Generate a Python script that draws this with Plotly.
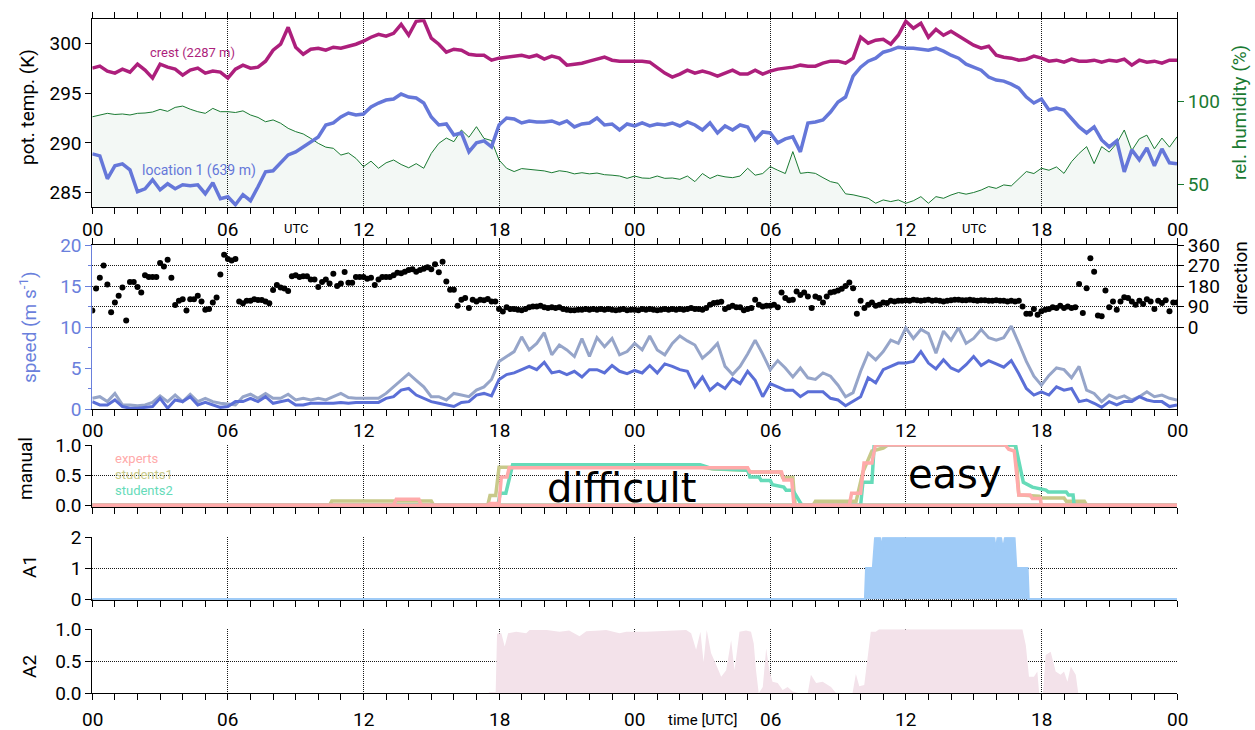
import numpy as np
import plotly.graph_objects as go

W, H = 1255, 730

# ---------------- data ----------------
tick_hours = [0, 6, 12, 18, 24, 30, 36, 42, 48]
tick_labels = ["00", "06", "12", "18", "00", "06", "12", "18", "00"]

# potential temperature (K), 20-min steps, 0..48 h
crest_T = [
    297.5, 297.7, 297.2, 297.0, 297.4, 297.1, 297.9, 297.3, 296.5, 297.9, 297.6, 297.4,
    296.8, 297.3, 297.5, 297.0, 297.2, 297.1, 296.5, 297.4, 297.8, 297.5, 297.6, 298.2,
    299.3, 299.9, 301.6, 299.6, 298.9, 299.4, 299.5, 299.3, 299.6, 299.5, 299.7, 299.9,
    300.2, 300.6, 300.9, 300.7, 301.0, 301.9, 300.8, 302.2, 302.3, 300.5, 299.9, 299.1,
    299.4, 299.3, 298.9, 298.8, 298.8, 298.3, 298.5, 298.6, 298.7, 298.8, 298.6, 298.8,
    298.4, 298.7, 298.5, 297.8, 297.9, 298.0, 298.2, 298.4, 298.6, 298.3, 298.2, 298.2,
    298.2, 298.2, 298.1, 297.5, 297.0, 296.6, 296.9, 297.3, 297.0, 297.2, 297.0, 296.7,
    297.0, 297.3, 296.9, 296.9, 297.3, 296.9, 297.2, 297.4, 297.5, 297.6, 297.8, 297.7,
    297.7, 298.0, 298.2, 298.2, 298.0, 298.5, 300.6, 300.0, 300.3, 300.4, 299.9, 300.8,
    302.2, 301.5, 302.0, 300.6, 301.4, 300.8, 301.2, 300.7, 300.2, 299.8, 299.5, 299.7,
    298.8, 298.6, 298.5, 298.3, 298.4, 298.7, 298.5, 298.2, 298.3, 298.1, 298.4, 298.2,
    298.2, 298.3, 298.1, 298.3, 298.2, 298.4, 297.8, 298.3, 298.1, 298.2, 298.0, 298.3,
    298.3,
]
loc1_T = [
    288.9, 288.7, 286.4, 287.7, 287.9, 287.3, 285.1, 285.4, 286.3, 285.3, 285.9, 285.4,
    285.8, 285.7, 285.8, 284.9, 286.0, 284.4, 284.6, 283.8, 284.8, 284.2, 285.6, 287.1,
    287.2, 288.0, 288.8, 289.1, 289.6, 290.1, 290.6, 291.8, 292.0, 292.6, 293.0, 292.8,
    292.9, 293.6, 294.0, 294.3, 294.4, 294.9, 294.6, 294.5, 294.0, 292.6, 291.8, 291.9,
    290.8, 291.0, 289.1, 290.0, 290.2, 289.6, 291.8, 292.5, 292.4, 292.0, 292.2, 292.1,
    292.1, 292.2, 291.9, 292.2, 291.6, 291.9, 292.0, 292.5, 291.8, 291.9, 291.3, 291.9,
    291.7, 292.0, 291.7, 291.9, 291.8, 292.0, 291.7, 292.1, 291.8, 291.3, 292.0, 291.0,
    291.7, 291.3, 291.8, 291.6, 290.3, 291.1, 291.0, 290.0, 290.4, 290.6, 289.1, 292.0,
    292.1, 292.3, 293.1, 294.1, 294.6, 296.7, 297.6, 298.2, 298.5, 299.1, 299.3, 299.6,
    299.5, 299.5, 299.4, 299.3, 299.5, 299.2, 298.8, 298.5, 297.9, 297.6, 297.3, 296.6,
    296.3, 296.2, 295.9, 295.5, 294.6, 294.0, 294.4, 293.3, 293.5, 293.3, 292.5, 291.6,
    291.0, 291.6, 290.3, 289.6, 290.2, 287.1, 289.3, 288.3, 289.5, 287.7, 289.4, 288.0,
    287.9,
]
# relative humidity (%), 20-min steps
rel_hum = [
    90.9, 92.0, 93.0, 92.3, 92.6, 92.0, 93.0, 93.2, 93.8, 95.4, 94.2, 96.6,
    97.4, 95.5, 94.0, 93.0, 96.0, 94.0, 94.0, 93.5, 94.5, 92.0, 90.5, 87.9,
    89.0, 87.0, 83.9, 81.9, 80.5, 77.8, 74.8, 72.5, 71.8, 67.7, 69.0, 65.7,
    60.7, 64.0, 59.7, 63.0, 64.7, 62.0, 60.0, 62.5, 59.7, 68.7, 74.8, 78.0,
    75.8, 82.9, 78.5, 84.9, 77.8, 76.5, 64.7, 59.7, 57.7, 59.5, 59.0, 58.6,
    58.1, 57.0, 58.2, 57.6, 56.3, 57.0, 56.3, 56.8, 55.8, 55.5, 55.0, 53.6,
    55.0, 53.8, 53.6, 55.0, 53.6, 53.8, 53.0, 55.0, 51.6, 56.5, 53.5, 55.5,
    54.5, 54.0, 55.0, 59.7, 55.5, 56.5, 60.7, 58.5, 56.5, 69.8, 56.6, 57.2,
    56.6, 54.0, 51.6, 50.6, 44.2, 43.6, 42.5, 41.5, 38.5, 40.5, 39.5, 40.5,
    38.5, 40.0, 42.5, 38.5, 42.5, 41.5, 43.5, 45.0, 44.0, 45.0, 46.5, 48.6,
    47.5, 49.6, 49.0, 53.6, 57.7, 56.5, 59.7, 58.5, 60.5, 56.6, 63.7, 68.7,
    72.8, 62.5, 72.8, 69.5, 74.8, 82.9, 70.5, 77.5, 79.8, 71.5, 78.0, 72.5,
    78.8,
]
# wind speed (m/s), 20-min steps
speed_light = [
    1.3, 1.5, 0.9, 1.9, 0.5, 0.5, 0.4, 0.5, 0.8, 1.6, 0.9, 1.7,
    0.9, 1.8, 0.9, 1.3, 0.9, 0.7, 0.6, 0.5, 1.5, 1.8, 1.3, 1.9,
    1.3, 1.3, 1.8, 1.1, 1.3, 1.1, 1.3, 1.1, 1.5, 1.9, 1.4, 1.3,
    1.3, 1.3, 1.3, 1.9, 2.7, 3.6, 4.3, 3.5, 2.7, 1.5, 1.5, 1.1,
    1.9, 1.7, 1.5, 2.3, 2.7, 3.6, 5.8, 6.4, 7.0, 8.8, 7.2, 8.0,
    9.3, 6.6, 7.8, 7.2, 6.4, 8.6, 6.4, 8.7, 7.6, 8.6, 6.6, 7.0,
    8.0, 7.2, 8.9, 7.2, 6.6, 8.0, 8.9, 8.3, 7.8, 6.2, 7.0, 8.0,
    5.2, 4.2, 5.2, 6.7, 8.4, 6.7, 4.8, 5.9, 5.0, 3.9, 5.0, 3.8,
    3.6, 4.4, 4.0, 2.9, 1.5, 2.0, 4.6, 6.8, 6.0, 7.0, 8.4, 8.0,
    9.9, 8.6, 9.7, 9.2, 6.8, 9.5, 8.4, 9.9, 8.0, 8.6, 9.7, 8.7,
    8.4, 8.7, 10.1, 8.0, 5.8, 4.0, 2.9, 4.1, 5.0, 4.8, 3.8, 5.2,
    2.3, 1.9, 0.9, 1.7, 1.3, 1.6, 1.1, 1.5, 2.1, 1.5, 1.7, 1.3,
    1.1,
]
speed_dark = [
    0.9, 0.5, 0.5, 1.1, 0.3, 0.1, 0.1, 0.2, 0.3, 1.3, 0.1, 1.1,
    0.9, 1.5, 0.5, 0.8, 0.5, 0.2, 0.3, 0.9, 0.9, 1.3, 0.9, 1.5,
    0.7, 0.9, 1.1, 0.5, 0.5, 0.7, 0.7, 0.7, 0.7, 0.8, 0.7, 0.8,
    0.8, 0.8, 0.8, 1.3, 1.5, 2.3, 2.5, 1.7, 1.3, 0.9, 0.7, 0.5,
    0.3, 0.8, 0.9, 1.7, 1.9, 1.6, 3.6, 4.2, 4.4, 4.8, 5.2, 4.8,
    5.7, 4.4, 4.6, 4.2, 4.6, 3.9, 4.8, 4.8, 4.4, 5.3, 4.6, 4.3,
    4.7, 4.4, 5.3, 4.4, 5.5, 5.2, 4.8, 4.6, 2.7, 3.9, 2.3, 3.1,
    2.5, 3.7, 3.1, 4.6, 3.5, 1.5, 3.1, 2.7, 2.3, 2.3, 1.5, 2.1,
    2.1, 2.1, 1.3, 1.1, 0.4, 0.9, 1.5, 3.8, 3.2, 4.8, 5.2, 5.6,
    5.6, 5.8, 7.0, 5.6, 4.9, 6.0, 5.0, 4.6, 5.4, 6.4, 5.3, 5.9,
    5.5, 5.1, 5.9, 4.3, 2.5, 1.7, 2.1, 1.7, 2.7, 2.3, 2.5, 0.9,
    1.1, 0.7, 0.2, 0.9, 0.5, 0.9, 0.9, 1.5, 1.1, 0.9, 0.9, 0.3,
    0.5,
]
# wind direction (deg), 10-min steps
direction = [
    72, 169, 216, 270, 187, 65, 108, 137, 173, 29, 198, 198,
    176, 151, 227, 220, 220, 220, 281, 266, 295, 216, 97, 115,
    122, 72, 122, 122, 137, 112, 76, 79, 108, 130, 230, 317,
    299, 292, 299, 112, 104, 115, 115, 122, 119, 119, 112, 104,
    162, 184, 173, 169, 158, 223, 227, 220, 223, 223, 209, 209,
    176, 198, 209, 191, 234, 180, 191, 241, 194, 194, 220, 220,
    220, 212, 216, 184, 209, 220, 220, 220, 227, 238, 236, 243,
    250, 254, 243, 250, 256, 262, 254, 275, 240, 286, 200, 163,
    163, 93, 120, 127, 83, 120, 112, 120, 117, 123, 112, 112,
    79, 68, 87, 79, 79, 76, 73, 79, 87, 90, 90, 93,
    87, 83, 87, 83, 87, 79, 76, 73, 73, 76, 76, 79,
    76, 79, 76, 79, 76, 79, 76, 73, 76, 79, 73, 76,
    76, 73, 79, 76, 79, 76, 73, 76, 79, 76, 79, 76,
    79, 76, 79, 83, 79, 79, 76, 83, 98, 105, 108, 111,
    79, 87, 93, 87, 87, 73, 79, 83, 120, 98, 90, 93,
    93, 98, 87, 152, 127, 117, 120, 156, 141, 152, 134, 83,
    134, 127, 108, 134, 152, 155, 160, 168, 180, 195, 170, 58,
    115, 83, 98, 108, 93, 98, 108, 105, 115, 112, 115, 115,
    117, 115, 120, 117, 115, 117, 120, 115, 117, 115, 112, 115,
    117, 120, 120, 117, 117, 120, 117, 115, 117, 117, 115, 115,
    117, 115, 115, 112, 115, 112, 115, 90, 58, 58, 79, 54,
    69, 76, 79, 87, 83, 93, 83, 90, 83, 87, 189, 61,
    170, 302, 243, 51, 47, 160, 87, 112, 76, 112, 131, 127,
    112, 98, 115, 101, 122, 112, 79, 115, 105, 117, 69, 108,
    108,
]

# manual classification (fraction), breakpoints (hour, value)
experts_diff_t = [0, 13.33, 13.45, 14.45, 14.55, 17.5, 17.6, 18.0, 18.1, 18.35, 18.45, 29.0, 29.1, 30.5, 30.6, 30.95, 31.05, 48]
experts_diff_v = [0, 0, 0.1, 0.1, 0, 0, 0.03, 0.03, 0.47, 0.47, 0.62, 0.62, 0.55, 0.55, 0.42, 0.42, 0, 0]
students1_diff_t = [0, 10.5, 10.6, 15.0, 15.1, 17.5, 17.6, 17.85, 18.0, 27.0, 27.5, 29.0, 29.15, 30.45, 30.55, 31.0, 31.1, 48]
students1_diff_v = [0, 0, 0.07, 0.07, 0, 0, 0.16, 0.16, 0.63, 0.63, 0.6, 0.58, 0.55, 0.55, 0.46, 0.46, 0, 0]
students2_diff_t = [0, 17.95, 18.05, 18.3, 18.6, 26.9, 27.4, 29.0, 29.1, 29.5, 29.6, 30.0, 30.1, 30.6, 30.7, 31.0, 31.4, 48]
students2_diff_v = [0, 0, 0.2, 0.2, 0.67, 0.67, 0.61, 0.58, 0.47, 0.47, 0.41, 0.41, 0.34, 0.3, 0.25, 0.25, 0, 0]
experts_easy_t = [0, 33.5, 33.6, 34.0, 34.15, 34.5, 34.65, 40.4, 40.55, 40.8, 41.0, 41.5, 41.6, 41.95, 42.0, 48]
experts_easy_v = [0, 0, 0.2, 0.2, 0.7, 0.7, 1.0, 1.0, 0.93, 0.9, 0.17, 0.17, 0.11, 0.11, 0, 0]
students1_easy_t = [0, 31.9, 32.0, 33.8, 34.1, 34.5, 35.0, 35.2, 40.85, 41.0, 41.9, 42.0, 43.0, 43.1, 43.9, 44.0, 48]
students1_easy_v = [0, 0, 0.065, 0.065, 0.55, 0.9, 0.95, 1.0, 1.0, 0.17, 0.15, 0.12, 0.12, 0.065, 0.065, 0, 0]
students2_easy_t = [0, 34.0, 34.1, 34.5, 34.6, 40.85, 41.2, 41.5, 41.6, 42.2, 42.3, 43.1, 43.2, 43.4, 43.45, 48]
students2_easy_v = [0, 0, 0.38, 0.38, 1.0, 1.0, 0.38, 0.33, 0.3, 0.25, 0.22, 0.22, 0.17, 0.17, 0, 0]

# algorithm 1 (class), breakpoints
a1_t = [0, 34.2, 34.25, 34.55, 34.65, 34.85, 34.93, 35.0, 39.9, 39.98, 40.07, 40.2, 40.3, 40.4, 40.8, 40.88, 41.38, 41.43, 48]
a1_v = [0, 0, 1, 1, 2, 2, 1.5, 2, 2, 1.5, 2, 2, 1.55, 2, 2, 1, 1, 0, 0]

# algorithm 2 (probability), breakpoints
a2_t = [0, 17.5, 17.6, 17.85, 17.91, 18.1, 18.25, 18.4, 18.76, 19.2, 19.35, 20.1, 20.68, 21.1, 21.56, 21.86,
        22.45, 22.74, 23.33, 23.63, 24.5, 25.1, 25.69, 26.28, 26.5, 26.72, 26.91, 27.05, 27.19, 27.38, 27.58,
        27.83, 28.05, 28.27, 28.42, 28.64, 28.93, 29.15, 29.27, 29.37, 29.49, 29.67, 29.82, 29.96, 30.1, 30.33,
        30.55, 30.77, 30.99, 31.29, 31.66, 31.8, 32.03, 32.32, 32.69, 32.9, 33.64, 33.79, 33.94, 34.16, 34.45,
        34.67, 34.82, 41.16, 41.31, 41.45, 41.67, 41.82, 41.9, 42.07, 42.19, 42.41, 42.63, 42.85, 43.0, 43.15,
        43.3, 43.52, 43.63, 48]
a2_v = [0, 0, 0.02, 0.02, 0.93, 0.94, 0.73, 0.94, 0.96, 0.94, 0.99, 0.99, 0.96, 0.98, 0.89, 0.97,
        0.98, 0.99, 0.94, 0.96, 0.96, 0.97, 0.99, 0.99, 0.94, 0.68, 0.96, 0.49, 0.99, 0.63, 0.47,
        0.26, 0.36, 0.83, 0.36, 0.96, 0.98, 0.96, 0.78, 0.36, 0.0, 0.1, 0.7, 0.36, 0.18, 0.16,
        0.05, 0.1, 0.03, 0.0, 0.0, 0.29, 0.16, 0.18, 0.1, 0.01, 0.0, 0.3, 0.11, 0.13, 0.96,
        0.96, 1.0, 1.0, 0.75, 0.26, 0.26, 0.34, 0.0, 0.0, 0.6, 0.65, 0.34, 0.29, 0.34, 0.18,
        0.42, 0.29, 0.0, 0.0]

assert len(crest_T) == len(loc1_T) == len(rel_hum) == len(speed_light) == len(speed_dark) == 145
assert len(direction) == 289
hours_20 = np.linspace(0, 48, len(crest_T))
hours_10 = np.linspace(0, 48, len(direction))

# ---------------- styling ----------------
C_CREST = "#ad1f7c"
C_LOC1 = "#6577d9"
C_RH = "#1a7a32"
C_SPD_DARK = "#5b6fd7"
C_SPD_LIGHT = "#96a5c9"
C_SPD_AX = "#6a80dc"
C_EXP = "#ffaaaa"
C_ST1 = "#c8c98a"
C_ST2 = "#66dbb9"
C_A1 = "#9fcbf7"
C_A2 = "#f3e2ea"
GRID = "rgba(0,0,0,0.9)"
GDASH = "1px,1px"
FONT = "Roboto"
FS = 19

XD = [92.3 / W, 1177.0 / W]


def yd(top, bottom):
    return [1 - bottom / H, 1 - top / H]


def xax(anchor, mirror):
    return dict(domain=XD, anchor=anchor, range=[0, 48], dtick=6, tick0=0,
                showticklabels=False, ticks="outside", ticklen=6, tickwidth=1,
                tickcolor="black", showline=True, linecolor="black", linewidth=1,
                mirror="ticks" if mirror else False, showgrid=True, gridcolor=GRID,
                griddash=GDASH, gridwidth=1, zeroline=False, automargin=False,
                minor=dict(dtick=1, tick0=0, ticks="outside", ticklen=6,
                           tickcolor="black", showgrid=False))


def yax(anchor, dom, rng, dtick, fmt=None):
    d = dict(domain=dom, anchor=anchor, range=rng, dtick=dtick, tick0=0,
             ticks="outside", ticklen=6, tickcolor="black", showline=True,
             linecolor="black", linewidth=1, showgrid=True, gridcolor=GRID,
             griddash=GDASH, gridwidth=1, zeroline=False, automargin=False,
             tickfont=dict(size=FS, family=FONT, color="black"))
    if fmt:
        d["tickformat"] = fmt
    return d


fig = go.Figure()

# panel 1
fig.add_trace(go.Scatter(x=hours_20, y=rel_hum, xaxis="x", yaxis="y", mode="lines",
                         line=dict(color=C_RH, width=1), fill="tozeroy",
                         fillcolor="rgba(26,122,50,0.05)"))
fig.add_trace(go.Scatter(x=hours_20, y=crest_T, xaxis="x", yaxis="y2", mode="lines",
                         line=dict(color=C_CREST, width=3.5)))
fig.add_trace(go.Scatter(x=hours_20, y=loc1_T, xaxis="x", yaxis="y2", mode="lines",
                         line=dict(color=C_LOC1, width=3.5)))
# panel 2
fig.add_trace(go.Scatter(x=hours_10, y=direction, xaxis="x2", yaxis="y3", mode="markers",
                         marker=dict(color="black", size=6)))
fig.add_trace(go.Scatter(x=hours_20, y=speed_light, xaxis="x2", yaxis="y4", mode="lines",
                         line=dict(color=C_SPD_LIGHT, width=3)))
fig.add_trace(go.Scatter(x=hours_20, y=speed_dark, xaxis="x2", yaxis="y4", mode="lines",
                         line=dict(color=C_SPD_DARK, width=3)))
# panel 3 (manual)
for t, v, c in [(students1_diff_t, students1_diff_v, C_ST1),
                (students1_easy_t, students1_easy_v, C_ST1),
                (students2_diff_t, students2_diff_v, C_ST2),
                (students2_easy_t, students2_easy_v, C_ST2),
                (experts_diff_t, experts_diff_v, C_EXP),
                (experts_easy_t, experts_easy_v, C_EXP)]:
    fig.add_trace(go.Scatter(x=t, y=v, xaxis="x3", yaxis="y5", mode="lines",
                             line=dict(color=c, width=3.5)))
# panel 4 (A1)
fig.add_trace(go.Scatter(x=a1_t, y=a1_v, xaxis="x4", yaxis="y6", mode="lines",
                         line=dict(color=C_A1, width=2.5), fill="tozeroy", fillcolor=C_A1))
# panel 5 (A2)
fig.add_trace(go.Scatter(x=a2_t, y=a2_v, xaxis="x5", yaxis="y7", mode="lines",
                         line=dict(color=C_A2, width=0), fill="tozeroy", fillcolor=C_A2))

P1 = yd(19.3, 206.7)
P2 = yd(245, 409)
P3 = yd(445, 507.3)
P4 = yd(537.3, 600.3)
P5 = yd(629.3, 693.3)

layout = dict(
    template="none",
    width=W, height=H, margin=dict(l=0, r=0, t=0, b=0, pad=0, autoexpand=False),
    paper_bgcolor="white", plot_bgcolor="white", showlegend=False,
    font=dict(family=FONT, size=FS, color="black"),
    xaxis=xax("y", True), xaxis2=xax("y3", True),
    xaxis3=xax("y5", False), xaxis4=xax("y6", False), xaxis5=xax("y7", False),
)
# panel 1 y axes
layout["yaxis"] = dict(domain=P1, anchor="x", side="right", range=[36.4, 150],
                       tickvals=[50, 100], ticks="outside", ticklen=6, tickcolor=C_RH,
                       tickfont=dict(size=FS, family=FONT, color=C_RH), automargin=False,
                       showline=True, linecolor="black", showgrid=False, zeroline=False)
layout["yaxis2"] = dict(overlaying="y", anchor="x", side="left", range=[283.6, 302.4],
                        dtick=5, tick0=0, ticks="outside", ticklen=6, tickcolor="black",
                        tickfont=dict(size=FS, family=FONT, color="black"), automargin=False,
                        showline=True, linecolor="black", showgrid=False, zeroline=False)
# panel 2 y axes
layout["yaxis3"] = dict(domain=P2, anchor="x2", side="right", range=[-360, 360],
                        tickvals=[0, 90, 180, 270, 360], ticks="outside", ticklen=6,
                        tickcolor="black", tickfont=dict(size=FS, family=FONT, color="black"),
                        showline=True, linecolor="black", showgrid=True, gridcolor=GRID,
                        griddash=GDASH, gridwidth=1, zeroline=False, automargin=False)
layout["yaxis4"] = dict(overlaying="y3", anchor="x2", side="left", range=[0, 20],
                        dtick=5, tick0=0, ticks="outside", ticklen=6, tickcolor=C_SPD_AX,
                        tickfont=dict(size=FS, family=FONT, color=C_SPD_AX), automargin=False,
                        showline=True, linecolor=C_SPD_AX, showgrid=False, zeroline=False,
                        minor=dict(dtick=2.5, tick0=0, ticks="outside", ticklen=3,
                                   tickcolor=C_SPD_AX, showgrid=False))
layout["yaxis5"] = yax("x3", P3, [-0.035, 1.0], 0.5, ".1f")
layout["yaxis6"] = yax("x4", P4, [-0.035, 2], 1)
layout["yaxis7"] = yax("x5", P5, [0, 1.0], 0.5, ".1f")

anns = []


def ann(text, px=None, py=0, size=FS, color="black", xanchor="center", angle=0,
        family=FONT, xh=None):
    d = dict(text=text, y=1 - py / H, yref="paper", yanchor="middle",
             xanchor=xanchor, showarrow=False, textangle=angle,
             font=dict(size=size, color=color, family=family))
    if xh is not None:
        d.update(x=xh, xref="x")
    else:
        d.update(x=px / W, xref="paper")
    anns.append(d)


# tick-label rows
for row_y in (229, 430.5, 719.5):
    for h, lab in zip(tick_hours, tick_labels):
        ann(lab, py=row_y, xh=h)
ann("UTC", py=228, xh=9, size=13)
ann("UTC", py=228, xh=39, size=13)
ann("time [UTC]", py=720, xh=27, size=15)

# axis titles
ann("pot. temp. (K)", 27, 107, angle=-90)
ann("rel. humidity (%)", 1240, 113, color=C_RH, angle=-90)
ann("speed (m s<sup>-1</sup>)", 28, 327, color=C_SPD_AX, angle=-90)
ann("direction", 1240, 278, angle=-90)
ann("manual", 25, 469, angle=-90)
ann("A1", 29, 567, angle=-90)
ann("A2", 29, 667, angle=-90)

# in-plot labels
ann("crest (2287 m)", 192, 52, size=13, color=C_CREST)
ann("location 1 (639 m)", 199, 170, size=14, color=C_LOC1)
ann("experts", 113, 458, size=13, color=C_EXP, xanchor="left")
ann("students1", 113, 474, size=13, color=C_ST1, xanchor="left")
ann("students2", 113, 490, size=13, color=C_ST2, xanchor="left")
ann("difficult", 621.5, 488, size=40, family="DejaVu Sans")
ann("easy", 955.5, 474, size=40, family="DejaVu Sans")

layout["annotations"] = anns
fig.update_layout(**layout)

fig.write_html("out.html", config={"displayModeBar": False},
               post_script="document.body.style.margin='0';")
